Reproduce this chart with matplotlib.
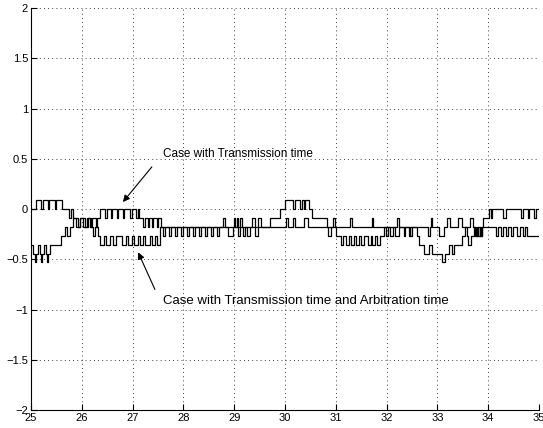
import matplotlib
matplotlib.use("Agg")
import matplotlib.pyplot as plt

plt.rcParams['font.family'] = ['Liberation Sans', 'DejaVu Sans']
plt.rcParams['axes.unicode_minus'] = True

# step signal: time instants where the value changes, and the value held after it
t_trans = [25.00, 25.10, 25.20, 25.23, 25.33, 25.36, 25.47, 25.50, 25.61, 25.75,
           25.79, 25.82, 25.89, 25.96, 26.02, 26.12, 26.16, 26.22, 26.26, 26.30,
           26.36, 26.46, 26.49, 26.57, 26.60, 26.69, 26.72, 26.81, 26.84, 26.95,
           26.98, 27.07, 27.10, 27.13, 27.20, 27.24, 27.30, 27.33, 27.38, 27.41,
           27.48, 27.51, 27.56, 28.78, 28.82, 28.99, 29.02, 29.06, 29.08, 29.12,
           29.15, 29.35, 29.41, 29.47, 29.53, 29.70, 29.90, 30.00, 30.16, 30.20,
           30.30, 30.33, 30.37, 30.40, 30.47, 30.53, 30.83, 31.28, 31.31, 31.71,
           31.74, 32.20, 32.24, 32.46, 32.50, 32.81, 32.85, 32.87, 32.90, 33.03,
           33.13, 33.19, 33.25, 33.41, 33.48, 33.64, 33.70, 33.76, 33.79, 33.84,
           33.88, 33.90, 34.02, 34.06, 34.08, 34.29, 34.35, 34.65, 34.69, 34.78,
           34.81, 34.90, 34.94, 35.00]
v_trans = [0.00, 0.09, 0.00, 0.09, 0.00, 0.09, 0.00, 0.09, 0.00, -0.09,
           0.00, -0.09, -0.18, -0.09, -0.18, -0.09, -0.18, -0.27, -0.18, -0.09,
           0.00, -0.09, 0.00, -0.09, 0.00, -0.09, 0.00, -0.09, 0.00, -0.09,
           0.00, -0.09, 0.00, -0.09, -0.18, -0.09, -0.18, -0.09, -0.18, -0.09,
           -0.18, -0.09, -0.18, -0.09, -0.18, -0.09, -0.18, -0.09, -0.18, -0.09,
           -0.18, -0.09, -0.18, -0.09, -0.18, -0.09, 0.00, 0.09, 0.00, 0.09,
           0.00, 0.09, 0.00, 0.09, 0.00, -0.09, -0.18, -0.09, -0.18, -0.09,
           -0.18, -0.09, -0.18, -0.27, -0.18, -0.27, -0.18, -0.09, -0.18, -0.27,
           -0.18, -0.09, -0.18, -0.09, -0.18, -0.09, -0.18, -0.27, -0.18, -0.27,
           -0.18, -0.09, 0.00, -0.09, 0.00, -0.09, 0.00, -0.09, 0.00, -0.09,
           0.00, -0.09, 0.00, 0.00]

t_arb = [25.00, 25.04, 25.07, 25.09, 25.13, 25.17, 25.20, 25.22, 25.26, 25.30,
         25.32, 25.34, 25.37, 25.59, 25.67, 25.71, 25.77, 25.83, 25.93, 25.96,
         26.06, 26.10, 26.18, 26.21, 26.28, 26.32, 26.36, 26.44, 26.48, 26.56,
         26.61, 26.67, 26.79, 26.87, 26.91, 26.99, 27.03, 27.11, 27.15, 27.20,
         27.24, 27.34, 27.38, 27.44, 27.49, 27.54, 27.60, 27.64, 27.72, 27.76,
         27.83, 27.87, 27.95, 27.99, 28.07, 28.11, 28.19, 28.23, 28.31, 28.35,
         28.43, 28.47, 28.54, 28.58, 28.66, 28.70, 28.88, 28.98, 29.08, 29.11,
         29.17, 29.21, 29.25, 29.31, 29.41, 29.47, 30.02, 30.06, 30.16, 30.20,
         30.37, 30.45, 30.85, 30.91, 30.95, 30.98, 31.00, 31.10, 31.14, 31.20,
         31.26, 31.30, 31.36, 31.40, 31.46, 31.50, 31.56, 31.63, 31.69, 31.72,
         31.77, 31.81, 31.87, 31.95, 31.99, 32.03, 32.07, 32.13, 32.17, 32.24,
         32.34, 32.37, 32.44, 32.47, 32.60, 32.64, 32.74, 32.83, 32.89, 33.09,
         33.15, 33.23, 33.29, 33.33, 33.48, 33.54, 33.58, 33.60, 33.66, 33.72,
         33.75, 33.78, 33.80, 33.84, 33.86, 33.88, 34.15, 34.19, 34.25, 34.29,
         34.35, 34.39, 34.45, 34.49, 34.57, 34.63, 34.69, 34.73, 34.76, 35.00]
v_arb = [-0.36, -0.45, -0.53, -0.45, -0.36, -0.45, -0.53, -0.45, -0.36, -0.45,
         -0.53, -0.45, -0.36, -0.27, -0.18, -0.27, -0.18, -0.09, -0.18, -0.09,
         -0.18, -0.09, -0.18, -0.09, -0.18, -0.27, -0.36, -0.27, -0.36, -0.27,
         -0.36, -0.27, -0.36, -0.27, -0.36, -0.27, -0.36, -0.27, -0.36, -0.27,
         -0.36, -0.27, -0.36, -0.27, -0.36, -0.18, -0.27, -0.18, -0.27, -0.18,
         -0.27, -0.18, -0.27, -0.18, -0.27, -0.18, -0.27, -0.18, -0.27, -0.18,
         -0.27, -0.18, -0.27, -0.18, -0.27, -0.18, -0.27, -0.18, -0.27, -0.18,
         -0.27, -0.18, -0.27, -0.18, -0.27, -0.18, -0.09, -0.18, -0.09, -0.18,
         -0.09, -0.18, -0.27, -0.18, -0.09, -0.18, -0.27, -0.36, -0.27, -0.36,
         -0.27, -0.36, -0.27, -0.36, -0.27, -0.36, -0.27, -0.36, -0.27, -0.36,
         -0.27, -0.36, -0.27, -0.18, -0.27, -0.18, -0.27, -0.18, -0.27, -0.18,
         -0.27, -0.18, -0.27, -0.18, -0.27, -0.36, -0.45, -0.36, -0.45, -0.53,
         -0.45, -0.36, -0.45, -0.36, -0.27, -0.18, -0.27, -0.36, -0.27, -0.18,
         -0.27, -0.18, -0.27, -0.18, -0.27, -0.18, -0.27, -0.18, -0.27, -0.18,
         -0.27, -0.18, -0.27, -0.18, -0.27, -0.18, -0.27, -0.18, -0.27, -0.27]

x_ticks = [25, 26, 27, 28, 29, 30, 31, 32, 33, 34, 35]
y_ticks = [-2, -1.5, -1, -0.5, 0, 0.5, 1, 1.5, 2]
y_labels = ["\u22122", "\u22121.5", "\u22121", "\u22120.5", "0", "0.5", "1", "1.5", "2"]

fig = plt.figure(figsize=(5.43, 4.28), dpi=100)
ax = fig.add_axes([0.057, 0.042, 0.9356, 0.939])

ax.plot(t_trans, v_trans, color="black", linewidth=0.9, drawstyle="steps-post")
ax.plot(t_arb, v_arb, color="black", linewidth=0.9, drawstyle="steps-post")

ax.set_xlim(25, 35)
ax.set_ylim(-2, 2)
ax.set_xticks(x_ticks)
ax.set_yticks(y_ticks)
ax.set_yticklabels(y_labels)
ax.tick_params(direction="in", length=4, width=0.8, labelsize=8, pad=2)
ax.grid(True, color="black", linestyle=(0, (1, 4)), linewidth=0.6)
ax.spines["top"].set_visible(False)
ax.spines["right"].set_visible(False)

arrow = dict(arrowstyle="-|>", color="black", lw=0.8, shrinkA=0, shrinkB=0,
             mutation_scale=10)
ax.text(27.60, 0.55, "Case with Transmission time", fontsize=8.5,
        va="center", ha="left")
ax.annotate("", xy=(26.81, 0.07), xytext=(27.38, 0.42), arrowprops=arrow)
ax.text(27.60, -0.91, "Case with Transmission time and Arbitration time",
        fontsize=9.5, va="center", ha="left")
ax.annotate("", xy=(27.11, -0.43), xytext=(27.44, -0.80), arrowprops=arrow)

fig.savefig("out.png", dpi=100)
